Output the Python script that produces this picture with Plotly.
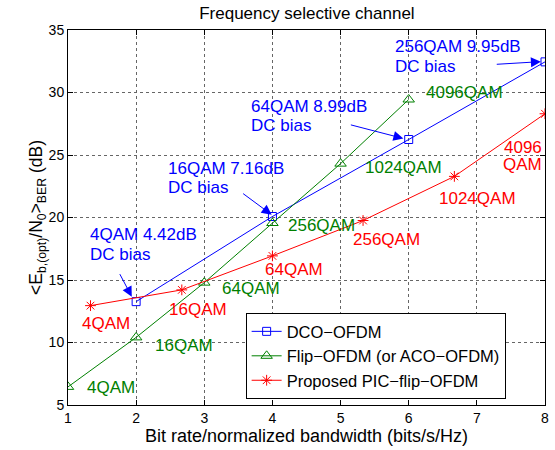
import plotly.graph_objects as go

# ---- data ----
dco_x = [2, 4, 6, 8]
dco_y = [13.27, 20.08, 26.24, 32.45]

flip_x = [1, 2, 3, 4, 5, 6]
flip_y = [6.45, 10.41, 14.79, 19.56, 24.31, 29.44]

pic_x = [1.33, 2.67, 4, 5.33, 6.67, 8]
pic_y = [12.95, 14.21, 16.93, 19.76, 23.29, 28.3]

flip_labels = ["4QAM", "16QAM", "64QAM", "256QAM", "1024QAM", "4096QAM"]
flip_label_x = [1.245, 2.24, 3.23, 4.2, 5.334, 6.231]
flip_label_y = [6.37, 9.74, 14.29, 19.34, 23.97, 30.03]

pic_labels = ["4QAM", "16QAM", "64QAM", "256QAM", "1024QAM"]
pic_label_x = [1.182, 2.446, 3.865, 5.149, 6.413]
pic_label_y = [11.54, 12.68, 15.87, 18.22, 21.56]

bias_line1 = ["4QAM 4.42dB", "16QAM 7.16dB", "64QAM 8.99dB", "256QAM 9.95dB"]
bias_line2 = ["DC bias", "DC bias", "DC bias", "DC bias"]
bias_text_x = [1.294, 2.436, 3.655, 5.766]
bias_text_y1 = [18.62, 23.93, 28.86, 33.72]
bias_text_y2 = [17.01, 22.41, 27.36, 32.07]
arrow_tail_x = [1.749, 3.548, 5.129, 7.27]
arrow_tail_y = [15.59, 22.0, 27.44, 32.25]
arrow_head_x = [1.936, 3.989, 5.922, 7.94]
arrow_head_y = [13.67, 20.22, 26.32, 32.47]

FONT = "Liberation Sans, Arial, Helvetica, sans-serif"
BLUE = "#0000FF"
GREEN = "#008000"
RED = "#FF0000"
LBL = 17

fig = go.Figure()
fig.add_trace(go.Scatter(x=dco_x, y=dco_y, mode="lines+markers", name="DCO−OFDM",
                         line=dict(color=BLUE, width=1),
                         marker=dict(symbol="square-open", size=8, color=BLUE, line=dict(width=1, color=BLUE))))
fig.add_trace(go.Scatter(x=flip_x, y=flip_y, mode="lines+markers", name="Flip−OFDM (or ACO−OFDM)",
                         line=dict(color=GREEN, width=1),
                         marker=dict(symbol="triangle-up-open", size=10, color=GREEN, line=dict(width=1, color=GREEN))))
fig.add_trace(go.Scatter(x=pic_x, y=pic_y, mode="lines+markers", name="Proposed PIC−flip−OFDM",
                         line=dict(color=RED, width=1),
                         marker=dict(symbol="asterisk-open", size=9, color=RED, line=dict(width=1, color=RED))))

ann = []
for t, x, y in zip(flip_labels, flip_label_x, flip_label_y):
    ann.append(dict(x=x, y=y, xref="x", yref="y", text=t, showarrow=False,
                    xanchor="left", yanchor="middle", font=dict(color=GREEN, size=LBL, family=FONT)))
for t, x, y in zip(pic_labels, pic_label_x, pic_label_y):
    ann.append(dict(x=x, y=y, xref="x", yref="y", text=t, showarrow=False,
                    xanchor="left", yanchor="middle", font=dict(color=RED, size=LBL, family=FONT)))
ann.append(dict(x=7.98, y=25.62, xref="x", yref="y", text="4096", showarrow=False,
                xanchor="right", yanchor="middle", font=dict(color=RED, size=LBL, family=FONT)))
ann.append(dict(x=7.98, y=24.23, xref="x", yref="y", text="QAM", showarrow=False,
                xanchor="right", yanchor="middle", font=dict(color=RED, size=LBL, family=FONT)))
for i in range(len(bias_line1)):
    ann.append(dict(x=bias_text_x[i], y=bias_text_y1[i], xref="x", yref="y", text=bias_line1[i],
                    showarrow=False, xanchor="left", yanchor="middle",
                    font=dict(color=BLUE, size=LBL, family=FONT)))
    ann.append(dict(x=bias_text_x[i], y=bias_text_y2[i], xref="x", yref="y", text=bias_line2[i],
                    showarrow=False, xanchor="left", yanchor="middle",
                    font=dict(color=BLUE, size=LBL, family=FONT)))
    ann.append(dict(x=arrow_head_x[i], y=arrow_head_y[i], xref="x", yref="y",
                    ax=arrow_tail_x[i], ay=arrow_tail_y[i], axref="x", ayref="y",
                    text="", showarrow=True, arrowhead=2, arrowsize=2, arrowwidth=1,
                    arrowcolor=BLUE, standoff=0))

axis_common = dict(showline=True, linecolor="black", linewidth=1, mirror="ticks",
                   ticks="inside", ticklen=5, tickcolor="black", automargin=False,
                   showgrid=True, gridcolor="#666666", griddash="dot", gridwidth=1,
                   zeroline=False, tickfont=dict(size=14, family=FONT, color="black"))

fig.update_layout(
    width=555, height=450,
    margin=dict(l=68.3, r=10.3, t=30, b=45.2, autoexpand=False),
    paper_bgcolor="white", plot_bgcolor="white",
    font=dict(family=FONT, color="black"),
    title=dict(text="Frequency selective channel", x=0.553, xanchor="center",
               y=0.971, yanchor="middle", font=dict(size=17, family=FONT, color="black"),
               automargin=False),
    xaxis=dict(range=[1, 8], dtick=1, tick0=1,
               title=dict(text="Bit rate/normalized bandwidth (bits/s/Hz)", standoff=2,
                          font=dict(size=18, family=FONT)),
               **axis_common),
    yaxis=dict(range=[5, 35], dtick=5, tick0=5,
               title=dict(text="&lt;E<sub>b,(opt)</sub>/N<sub>0</sub>&gt;<sub>BER</sub> (dB)", standoff=0,
                          font=dict(size=17.5, family=FONT)),
               **axis_common),
    legend=dict(x=0.3724, y=0.245, xanchor="left", yanchor="top",
                bgcolor="white", bordercolor="black", borderwidth=1,
                font=dict(size=16.5, family=FONT, color="black")),
    annotations=ann,
    showlegend=True,
)

fig.write_html("out.html", config={"displayModeBar": False},
               post_script="document.body.style.margin='0px';")
